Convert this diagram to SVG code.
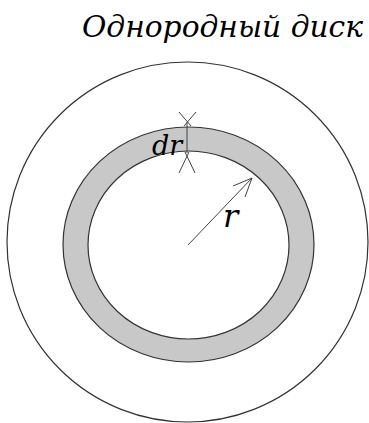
<svg xmlns="http://www.w3.org/2000/svg" width="369" height="423" viewBox="0 0 369 423">
<style>
.line{fill:none;stroke:#333;stroke-width:1.2}
.thin{fill:none;stroke:#444;stroke-width:1}
</style>
<rect width="369" height="423" fill="#fff"/>
<g id="disk">
<ellipse class="line" cx="187.5" cy="242" rx="180.5" ry="180"/>
</g>
<g id="ring">
<path d="M314,244.5 A125.5,117.5 0 1 0 63,244.5 A125.5,117.5 0 1 0 314,244.5 Z M289,245 A100.5,94 0 1 1 88,245 A100.5,94 0 1 1 289,245 Z" fill="#c8c8c8" fill-rule="evenodd" stroke="none"/>
<ellipse class="line" cx="188.5" cy="244.5" rx="125.5" ry="117.5"/>
<ellipse class="line" cx="188.5" cy="245" rx="100.5" ry="94"/>
</g>
<g id="connectors">
<line class="thin" x1="187" y1="122" x2="187" y2="153"/>
<line class="thin" x1="179" y1="112" x2="191" y2="126"/>
<line class="thin" x1="196" y1="112" x2="184" y2="126"/>
<line class="thin" x1="185" y1="152" x2="195" y2="173"/>
<line class="thin" x1="189" y1="152" x2="179" y2="173"/>
<line class="thin" x1="188" y1="245" x2="252" y2="178"/>
<line class="thin" x1="252" y1="178" x2="233" y2="186"/>
<line class="thin" x1="252" y1="178" x2="245" y2="197"/>
</g>
<g font-family="DejaVu Serif, serif" font-style="italic" fill="#000">
<text x="82" y="37" font-size="29" textLength="281" lengthAdjust="spacingAndGlyphs">Однородный диск</text>
<text x="152" y="155" font-size="27">dr</text>
<text x="223" y="227" font-size="32">r</text>
</g>
</svg>
